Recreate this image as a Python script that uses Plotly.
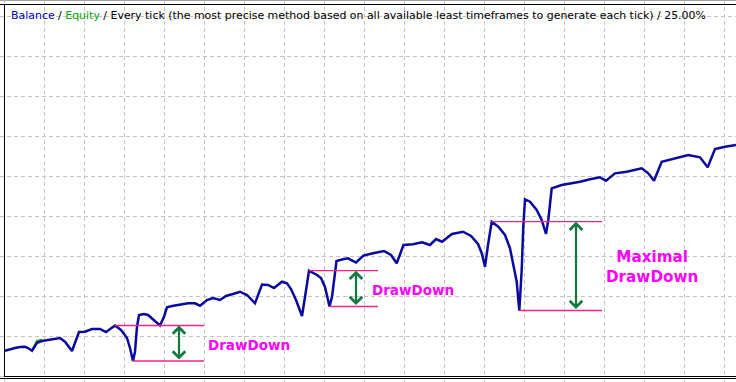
import plotly.graph_objects as go

# ---- data (x = tick/bar index, y = account balance) ----
tick_index = [5, 10, 15, 20, 25, 28, 32, 37, 42, 48, 55, 60, 65, 72, 79, 85, 92, 100, 106, 115,
              121, 127, 130, 133, 135, 137, 139, 144, 148, 155, 160, 164, 167, 172, 180, 188, 195, 200, 207, 213,
              220, 226, 233, 240, 247, 255, 262, 268, 274, 282, 287, 291, 296, 302, 305, 309, 317, 321, 325, 329.5,
              332, 336.5, 343, 348, 356, 363.5, 373, 384, 391, 396.7, 403.5, 413, 422, 430, 436, 442, 452, 463, 471, 478,
              482, 485, 488, 491.7, 498.3, 505, 510, 513.3, 516.7, 519.3, 521.7, 523.3, 525, 530, 536.7, 541.7, 546, 548.3, 551.7, 561.7,
              571.7, 580, 590, 600, 606, 615, 626.7, 641.7, 648.3, 654, 661.7, 671.7, 688.3, 700, 707.7, 715, 725, 736]
balance = [632, 675, 700, 725, 732, 700, 632, 832, 875, 900, 925, 950, 857, 625, 1100, 1107, 1175, 1175, 1100, 1262,
           1150, 950, 700, 375, 607, 1232, 1525, 1550, 1525, 1382, 1262, 1482, 1717, 1750, 1775, 1817, 1817, 1757, 1900, 1950,
           1900, 2000, 2050, 2107, 2025, 1817, 2287, 2275, 2200, 2357, 2317, 2175, 1900, 1500, 1975, 2632, 2525, 2450, 2225, 1737,
           1975, 2875, 2917, 2942, 2837, 3012, 3067, 3125, 3025, 2817, 3275, 3292, 3342, 3275, 3425, 3357, 3550, 3607, 3500, 3300,
           3050, 2732, 3275, 3857, 3732, 3525, 3192, 2817, 2357, 1637, 2650, 3732, 4417, 4357, 4150, 3900, 3550, 3900, 4692, 4775,
           4817, 4857, 4917, 4967, 4882, 5067, 5107, 5192, 5067, 4882, 5357, 5417, 5525, 5467, 5217, 5675, 5732, 5775]

equity_index = [32, 37, 42]
equity = [640, 880, 905]

# drawdown episodes: index of peak, index of trough, end of marker lines, arrow position
dd_peak_at = [115, 309, 491.7]
dd_trough_at = [133, 329.5, 519.3]
dd_line_end = [204, 378, 602]
dd_arrow_at = [179, 356, 576]
dd_labels = ["DrawDown", "DrawDown", "Maximal<br>DrawDown"]
dd_label_x = [249, 413, 652]
dd_label_y = [770, 2160, 2720]

title_html = ('<span style="color:#0000d0">Balance</span> / '
              '<span style="color:#00a800">Equity</span> / Every tick (the most precise method based on '
              'all available least timeframes to generate each tick) / 25.00%')

W, H = 736, 382
PINK = "#f8208c"
GREEN = "#117a3c"
MAGENTA = "#ff00ff"

fig = go.Figure()
fig.add_trace(go.Scatter(x=equity_index, y=equity, mode="lines",
                         line=dict(color="#10b010", width=2), hoverinfo="skip"))
fig.add_trace(go.Scatter(x=tick_index, y=balance, mode="lines",
                         line=dict(color="#0a0aa0", width=2.5), hoverinfo="skip"))

for i in range(3):
    p = balance[tick_index.index(dd_peak_at[i])]
    t = balance[tick_index.index(dd_trough_at[i])]
    fig.add_shape(type="line", xref="x", yref="y", x0=dd_peak_at[i], x1=dd_line_end[i], y0=p, y1=p,
                  line=dict(color=PINK, width=1.3))
    fig.add_shape(type="line", xref="x", yref="y", x0=dd_trough_at[i], x1=dd_line_end[i], y0=t, y1=t,
                  line=dict(color=PINK, width=1.3))
    fig.add_annotation(x=dd_arrow_at[i], y=p, ax=dd_arrow_at[i], ay=t, xref="x", yref="y",
                       axref="x", ayref="y", text="", showarrow=True, arrowhead=4, startarrowhead=4,
                       arrowside="end+start", arrowwidth=2.2, arrowsize=1.1, startarrowsize=1.1,
                       arrowcolor=GREEN, standoff=0, startstandoff=0)
    big = i == 2
    fig.add_annotation(x=dd_label_x[i], y=dd_label_y[i], xref="x", yref="y", text=dd_labels[i],
                       showarrow=False, xanchor="center", yanchor="middle",
                       font=dict(family="DejaVu Sans", size=15.2 if big else 13.5, color=MAGENTA,
                                 weight="bold"))

fig.add_annotation(x=9 / W, y=1 - 15.5 / H, xref="paper", yref="paper", text=title_html,
                   showarrow=False, xanchor="left", yanchor="middle",
                   font=dict(family="DejaVu Sans", size=10.95, color="#000000"))

# frame
def px_x(v):
    return v / W

def px_y(v):
    return 1 - v / H

frame = dict(color="#000000", width=1)
fig.add_shape(type="line", xref="paper", yref="paper", x0=0, x1=1, y0=px_y(0.5), y1=px_y(0.5),
              line=dict(color="#a0a0a0", width=1))
fig.add_shape(type="line", xref="paper", yref="paper", x0=0, x1=1, y0=px_y(4.5), y1=px_y(4.5), line=frame)
fig.add_shape(type="line", xref="paper", yref="paper", x0=px_x(4.5), x1=px_x(4.5), y0=px_y(4.5), y1=px_y(376.5), line=frame)
fig.add_shape(type="line", xref="paper", yref="paper", x0=px_x(4), x1=1, y0=px_y(376.5), y1=px_y(376.5), line=frame)
fig.add_shape(type="line", xref="paper", yref="paper", x0=0, x1=1, y0=px_y(378.5), y1=px_y(378.5), line=frame)

fig.update_layout(
    width=W, height=H, margin=dict(l=0, r=0, t=0, b=0),
    paper_bgcolor="white", plot_bgcolor="white", showlegend=False,
    xaxis=dict(range=[0, W], showgrid=True, gridcolor="#c4c4c4", griddash="4px,3px", gridwidth=1,
               tick0=4, dtick=40, showticklabels=False, zeroline=False, ticks="", fixedrange=True),
    yaxis=dict(range=[-150, 9400], showgrid=True, gridcolor="#c4c4c4", griddash="4px,3px", gridwidth=1,
               tick0=0, dtick=1000, showticklabels=False, zeroline=False, ticks="", fixedrange=True),
)

fig.write_html("out.html", config={"displayModeBar": False, "staticPlot": True},
               post_script="document.body.style.margin='0';document.body.style.padding='0';"
                           "document.body.style.overflow='hidden';")
